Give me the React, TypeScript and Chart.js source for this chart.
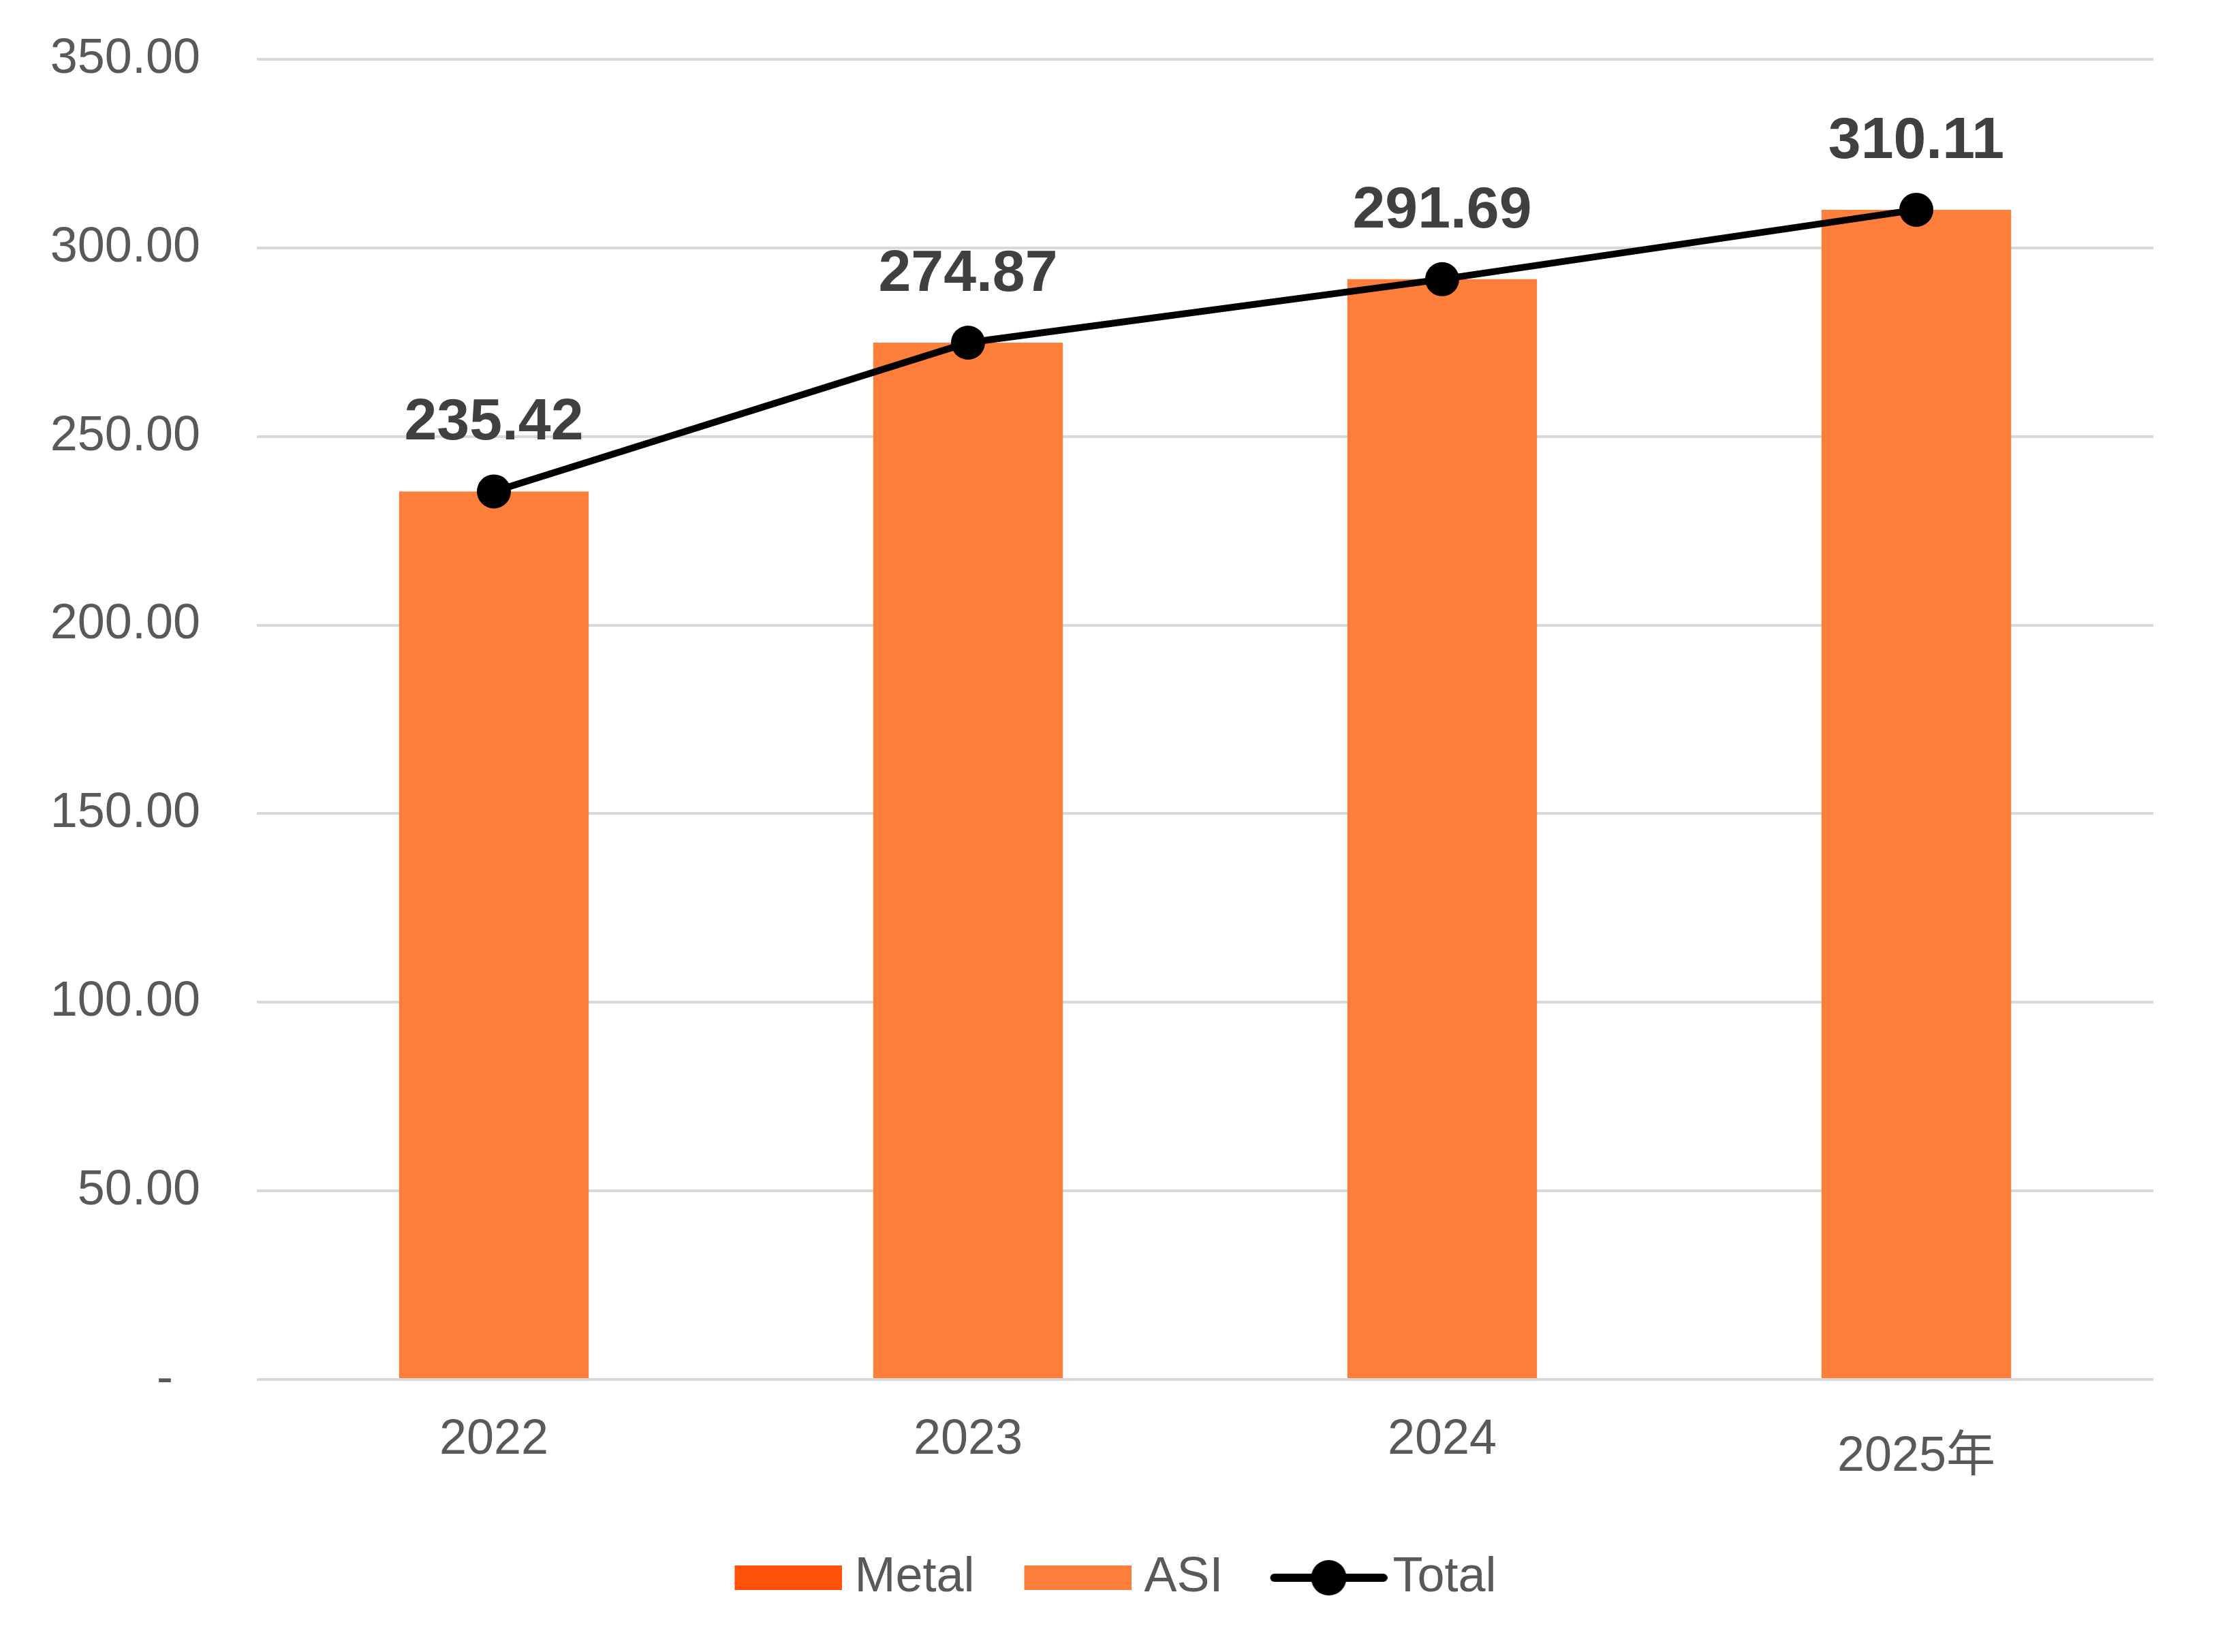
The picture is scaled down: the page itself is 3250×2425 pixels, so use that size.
import React, { useEffect, useRef } from 'react';
import { Chart, registerables } from 'chart.js';

Chart.register(...registerables);

const years = ['2022', '2023', '2024', '2025年'];
const metal = [0, 0, 0, 0];
const asi = [235.42, 274.87, 291.69, 310.11];
const total = [235.42, 274.87, 291.69, 310.11];
const yTicks = [0, 50, 100, 150, 200, 250, 300, 350];

const METAL_COLOR = '#FF5208';
const ASI_COLOR = '#FE7E3C';
const TEXT = '#595959';
const FONT = '"Liberation Sans", Arial, "Noto Sans CJK SC", sans-serif';

// legend swatches as images, so boxes and the line+dot look like the original
function boxImage(color: string) {
  const c = document.createElement('canvas');
  c.width = 176;
  c.height = 36;
  const g = c.getContext('2d')!;
  g.fillStyle = color;
  g.fillRect(18, 0, 158, 36);
  return c;
}

function lineImage() {
  const c = document.createElement('canvas');
  c.width = 196;
  c.height = 56;
  const g = c.getContext('2d')!;
  g.strokeStyle = '#000';
  g.lineWidth = 12;
  g.lineCap = 'round';
  g.beginPath();
  g.moveTo(30, 28);
  g.lineTo(190, 28);
  g.stroke();
  g.fillStyle = '#000';
  g.beginPath();
  g.arc(110, 28, 26, 0, Math.PI * 2);
  g.fill();
  return c;
}

const valueLabels = {
  id: 'valueLabels',
  afterDatasetsDraw(chart: any) {
    const meta = chart.getDatasetMeta(0);
    const ctx = chart.ctx;
    ctx.save();
    ctx.font = `bold 86px ${FONT}`;
    ctx.fillStyle = '#404040';
    ctx.textAlign = 'center';
    ctx.textBaseline = 'middle';
    meta.data.forEach((pt: any, i: number) => {
      ctx.fillText(total[i].toFixed(2), pt.x, pt.y - 100);
    });
    ctx.restore();
  },
};

// nudge the legend a little to the right, as in the original
const legendShift = {
  id: 'legendShift',
  afterLayout(chart: any) {
    if (chart.legend) {
      chart.legend.left += 57;
      chart.legend.right += 57;
    }
  },
};

const App: React.FC = () => {
  const canvasRef = useRef<HTMLCanvasElement>(null);

  useEffect(() => {
    document.body.style.margin = '0';
    const ctx = canvasRef.current?.getContext('2d');
    if (!ctx) return;

    const swatches = [boxImage(METAL_COLOR), boxImage(ASI_COLOR), lineImage()];

    const chart = new Chart(ctx, {
      type: 'bar',
      data: {
        labels: years,
        datasets: [
          {
            type: 'line',
            label: 'Total',
            data: total,
            borderColor: '#000',
            borderWidth: 10,
            backgroundColor: '#000',
            pointRadius: 25,
            pointBorderWidth: 0,
            pointBackgroundColor: '#000',
            stack: 'total',
            order: 0,
          } as any,
          {
            label: 'Metal',
            data: metal,
            backgroundColor: METAL_COLOR,
            stack: 'bars',
            order: 1,
          },
          {
            label: 'ASI',
            data: asi,
            backgroundColor: ASI_COLOR,
            stack: 'bars',
            order: 1,
          },
        ],
      },
      options: {
        animation: false,
        responsive: false,
        devicePixelRatio: 1,
        layout: { padding: { top: 87, right: 89, left: 0, bottom: 63 } },
        datasets: {
          bar: { categoryPercentage: 1, barPercentage: 0.4 },
        },
        scales: {
          x: {
            stacked: true,
            grid: { display: false },
            border: { display: false },
            ticks: {
              color: TEXT,
              padding: 38,
              font: (c: any) => ({
                family: FONT,
                size: 72,
                lineHeight: c.index === 3 ? 1.9 : 1.2,
              }),
            },
            afterFit: (s: any) => {
              s.height = 182;
            },
          },
          y: {
            stacked: true,
            min: 0,
            max: 350,
            afterBuildTicks: (s: any) => {
              s.ticks = yTicks.map((v) => ({ value: v }));
            },
            grid: { color: '#D9D9D9', lineWidth: 4, drawTicks: false },
            border: { display: false },
            ticks: {
              color: TEXT,
              padding: 83,
              font: { family: FONT, size: 72 },
              callback: (v: any) => (Number(v) === 0 ? '-  ' : Number(v).toFixed(2)),
            },
            afterFit: (s: any) => {
              s.width = 377;
              s.paddingTop = 0;
              s.paddingBottom = 0;
            },
          },
        },
        plugins: {
          tooltip: { enabled: false },
          legend: {
            position: 'bottom',
            labels: {
              usePointStyle: true,
              pointStyleWidth: 140,
              boxHeight: 36,
              padding: 73,
              color: TEXT,
              font: { family: FONT, size: 72 },
              generateLabels: () =>
                ['Metal', 'ASI', 'Total'].map((t, i) => ({
                  text: t,
                  pointStyle: swatches[i] as any,
                  fillStyle: 'transparent',
                  strokeStyle: 'transparent',
                  lineWidth: 0,
                  fontColor: TEXT,
                  hidden: false,
                  datasetIndex: i,
                })),
            },
          },
        },
      },
      plugins: [valueLabels, legendShift],
    });

    return () => {
      chart.destroy();
    };
  }, []);

  return (
    <div style={{ width: 3250, height: 2425 }}>
      <canvas ref={canvasRef} width={3250} height={2425}></canvas>
    </div>
  );
};

export default App;
